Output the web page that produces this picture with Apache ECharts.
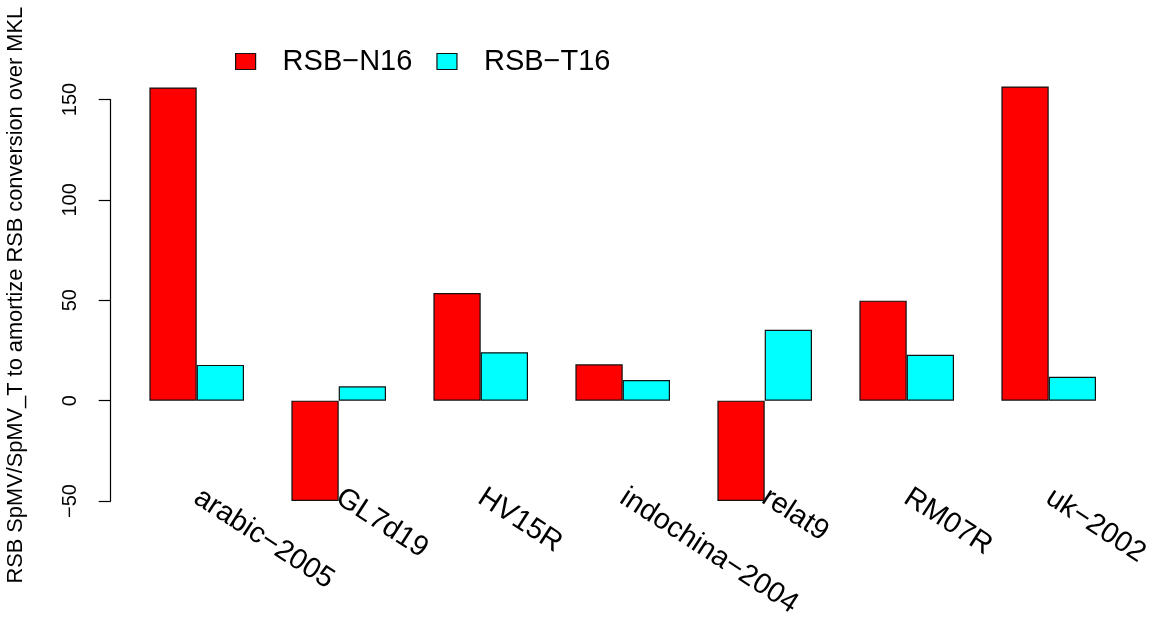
<!DOCTYPE html>
<html>
<head>
<meta charset="utf-8">
<style>
  html, body { margin: 0; padding: 0; background: #ffffff; }
  #chart { width: 1156px; height: 620px; }
</style>
<script src="https://cdn.jsdelivr.net/npm/echarts@6/dist/echarts.min.js"></script>
</head>
<body>
<div id="chart"></div>
<script>
// Matrices (speed-up break-even counts) per matrix and RSB variant
const matrices = ['arabic\u22122005', 'GL7d19', 'HV15R', 'indochina\u22122004', 'relat9', 'RM07R', 'uk\u22122002'];
const seriesNames = ['RSB\u2212N16', 'RSB\u2212T16'];
const rsbN16 = [156.0, -50.0, 53.6, 18.1, -50.0, 49.8, 156.5];
const rsbT16 = [17.8, 7.1, 24.1, 10.3, 35.3, 22.8, 11.9];
const yTicks = { min: -50, max: 150, step: 50 };
const yTitle = 'RSB SpMV/SpMV_T to amortize RSB conversion over MKL';

const FONT = '"Liberation Sans", Arial, Helvetica, sans-serif';
const chart = echarts.init(document.getElementById('chart'), null, { renderer: 'canvas' });

const barStyle = (color) => ({
  color: color,
  borderColor: '#111111',
  borderWidth: 1.2
});

chart.setOption({
  animation: false,
  backgroundColor: '#ffffff',
  textStyle: { fontFamily: FONT, color: '#000' },
  legend: {
    left: 230,
    top: 42,
    itemWidth: 20,
    itemHeight: 16,
    itemGap: 24,
    icon: 'rect',
    itemStyle: { borderColor: '#111111', borderWidth: 1.2 },
    textStyle: { fontFamily: FONT, fontSize: 29, color: '#000', padding: [0, 0, 0, 22] },
    data: seriesNames
  },
  grid: {
    left: 125.7, right: 36.3, top: 99.5, bottom: 119,
    containLabel: false,
    outerBoundsMode: 'none'
  },
  xAxis: {
    type: 'category',
    data: matrices,
    axisLine: { show: false },
    axisTick: { show: false },
    axisLabel: {
      interval: 0,
      rotate: -33,
      margin: -6,
      fontFamily: FONT,
      fontSize: 29,
      color: '#000'
    }
  },
  yAxis: {
    type: 'value',
    min: yTicks.min,
    max: yTicks.max,
    interval: yTicks.step,
    offset: 15,
    name: yTitle,
    nameLocation: 'middle',
    nameRotate: 90,
    nameGap: 84,
    nameTextStyle: { fontFamily: FONT, fontSize: 21.8, color: '#000', padding: [0, 0, 0, 10] },
    splitLine: { show: false },
    axisLine: { show: true, onZero: false, lineStyle: { color: '#000', width: 1.2 } },
    axisTick: { show: true, length: 12, lineStyle: { color: '#000', width: 1.2 } },
    axisLabel: {
      rotate: 90,
      margin: 30,
      fontFamily: FONT,
      fontSize: 20,
      color: '#000',
      formatter: (v) => String(v).replace('-', '\u2212')
    }
  },
  series: [
    {
      name: seriesNames[0],
      type: 'bar',
      data: rsbN16,
      barWidth: 47.3,
      barGap: '0%',
      clip: false,
      itemStyle: barStyle('#ff0000')
    },
    {
      name: seriesNames[1],
      type: 'bar',
      data: rsbT16,
      barWidth: 47.3,
      barGap: '0%',
      clip: false,
      itemStyle: barStyle('#00ffff')
    }
  ]
});
</script>
</body>
</html>
